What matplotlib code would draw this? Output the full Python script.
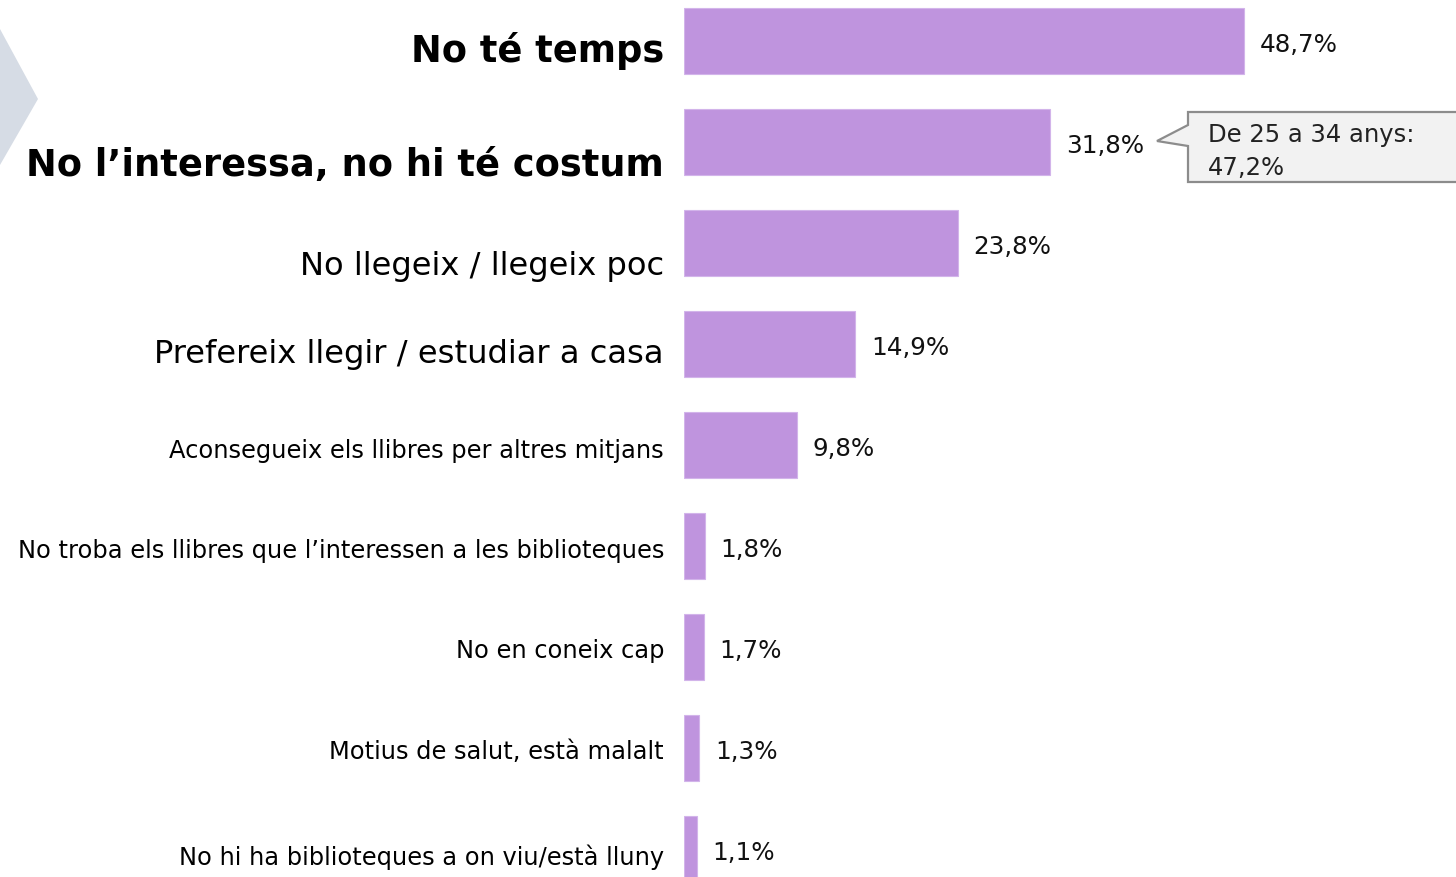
import matplotlib
matplotlib.use("Agg")
import matplotlib.pyplot as plt
from matplotlib.patches import Polygon

plt.rcParams['font.family'] = ['DejaVu Sans']

labels = [
    "No té temps",
    "No l’interessa, no hi té costum",
    "No llegeix / llegeix poc",
    "Prefereix llegir / estudiar a casa",
    "Aconsegueix els llibres per altres mitjans",
    "No troba els llibres que l’interessen a les biblioteques",
    "No en coneix cap",
    "Motius de salut, està malalt",
    "No hi ha biblioteques a on viu/està lluny",
]
values = [48.7, 31.8, 23.8, 14.9, 9.8, 1.8, 1.7, 1.3, 1.1]
callout_lines = ["De 25 a 34 anys:", "47,2%"]

# label styling (size in pt, weight, baseline offset in px below bar centre)
label_sizes = [26.5, 26.5, 23.1, 23.1, 17.4, 17.4, 17.4, 17.4, 17.4]
label_weights = ["bold", "bold"] + ["normal"] * 7
label_drop = [20, 33, 31, 18, 12, 11, 10, 10, 15]

W, H = 1456, 878
bar_color = "#bf94de"

fig = plt.figure(figsize=(W / 100, H / 100), dpi=100)
fig.patch.set_facecolor("white")

# chevron decoration on the left edge
fig.patches.append(Polygon([(0, 1 - 30 / H), (38 / W, 1 - 100 / H), (0, 1 - 166 / H)],
                           closed=True, transform=fig.transFigure,
                           facecolor="#d6dce5", edgecolor="none"))

ax = fig.add_axes([684 / W, 0, 1 - 684 / W, 1])
px_per_unit = 11.5
ax.set_xlim(0, (W - 684) / px_per_unit)
ax.set_ylim(8 + 28 / 101, -42 / 101)
ax.axis("off")

ypos = list(range(len(values)))
ax.barh(ypos, values, height=0.66, color=bar_color, edgecolor="#d2b4ea", linewidth=0.8)

for i, (lab, v) in enumerate(zip(labels, values)):
    ax.annotate(lab, xy=(0, i), xytext=(-20, -label_drop[i]), textcoords="offset pixels",
                ha="right", va="baseline", fontsize=label_sizes[i],
                fontweight=label_weights[i], color="black", annotation_clip=False)
    ax.annotate(f"{v:.1f}%".replace(".", ","), xy=(v, i), xytext=(16, -10),
                textcoords="offset pixels", ha="left", va="baseline",
                fontsize=17.7, color="#111111", annotation_clip=False)

# callout bubble
pts = [(1188, 113), (1470, 113), (1470, 183), (1188, 183), (1188, 147), (1157, 142), (1188, 126)]
fig.patches.append(Polygon([(x / W, 1 - y / H) for x, y in pts], closed=True,
                           transform=fig.transFigure, facecolor="#f2f2f2",
                           edgecolor="#8c8c8c", linewidth=1.6))
for k, line in enumerate(callout_lines):
    fig.text(1208 / W, 1 - (142 + 33 * k) / H, line, ha="left", va="baseline",
             fontsize=17.5, color="#222222")

fig.savefig("out.png", dpi=100)
